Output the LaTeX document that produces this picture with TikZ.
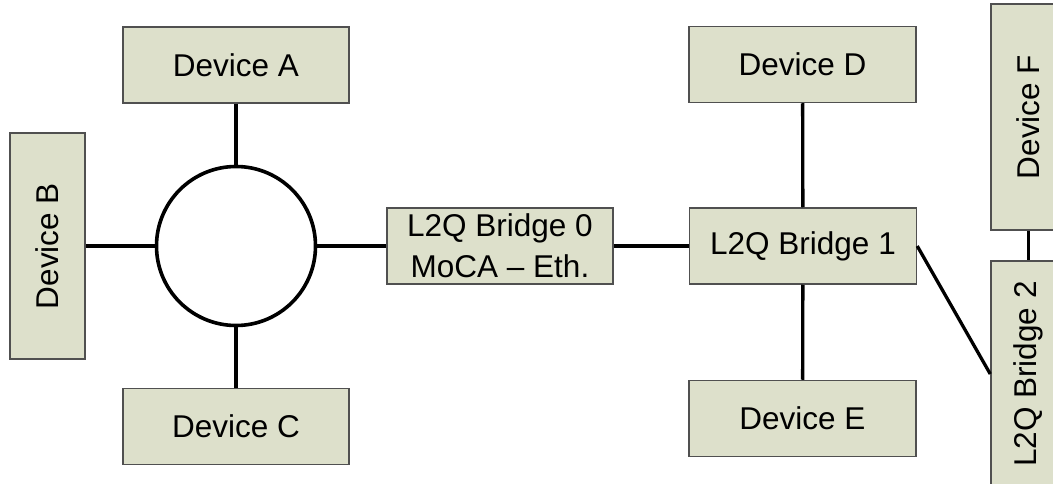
\documentclass[tikz,border=0pt]{standalone}
\usepackage{fontspec}
\setmainfont{Liberation Sans}
\usetikzlibrary{positioning}
\definecolor{boxfill}{RGB}{221,224,203}
\definecolor{boxline}{RGB}{80,80,80}

\begin{document}
\begin{tikzpicture}[x=1pt, y=-1pt, line width=3.3pt, font=\fontsize{31.5}{41}\selectfont]
    \tikzstyle{unit}=[draw=boxline, line width=1.5pt, fill=boxfill, rectangle, minimum width=226pt, minimum height=76pt, inner sep=0pt, align=center]
    \tikzstyle{tall}=[unit, minimum width=75pt, minimum height=226pt]
    \tikzstyle{hub}=[draw, black, line width=3.6pt, circle, minimum size=159pt, inner sep=0pt]

    \useasboundingbox (0,0) rectangle (1053,484);
    \clip (0,0) rectangle (1053,484);

    % Draw the hub and the devices round it
    \node[hub] (hub) at (236,246) {};
    \node[unit] (devA) at (236,65) {Device A};
    \node[tall] (devB) at (47.5,246) {\rotatebox{90}{Device B}};
    \node[unit] (devC) at (236,426.5) {Device C};

    % Draw the bridges
    \node[unit] (br0) at (500,246) {L2Q Bridge 0\\MoCA -- Eth.};
    \node[unit, minimum width=227pt, right=75pt of br0] (br1) {L2Q Bridge 1};
    \node[tall] (br2) at (1028.5,374) {\rotatebox{90}{L2Q Bridge 2}};

    % Draw the devices behind the bridges
    \node[unit, minimum width=227pt] (devD) at (802.5,64.5) {Device D};
    \node[unit, minimum width=227pt] (devE) at (802.5,418.5) {Device E};
    \node[tall] (devF) at (1028.5,117) {\rotatebox{90}{Device F}};

    % Connect the nodes
    \foreach \a/\b in {devA/hub, devB/hub, devC/hub, hub/br0, br0/br1, devD/br1, br1/devE, devF/br2}
    \draw (\a) -- (\b);
    \draw (br1.east) -- (br2.west);
\end{tikzpicture}
\end{document}
